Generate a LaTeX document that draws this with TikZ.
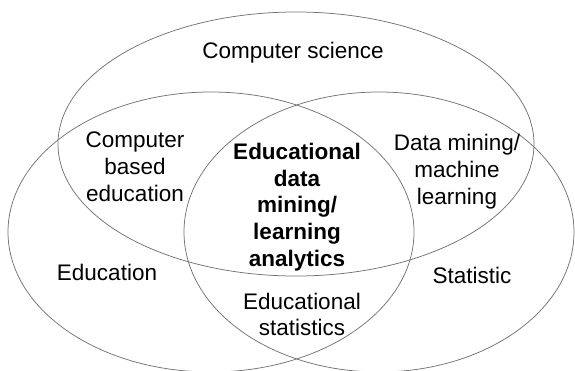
\documentclass[tikz,border=0pt]{standalone}
\usepackage{fontspec}
\setmainfont{Liberation Sans}
\begin{document}
\begin{tikzpicture}[x=1pt,y=-1pt,
  setline/.style={draw=black!55, line width=0.75pt},
  lbl/.style={inner sep=0pt, align=center, font=\fontsize{22.5}{26.8}\selectfont},
  blbl/.style={lbl, font=\fontsize{22.5}{26.6}\selectfont\bfseries}]
\useasboundingbox (0,0) rectangle (575,370);
\draw[setline] (296,144) ellipse [x radius=238, y radius=132];
\draw[setline] (211,232) ellipse [x radius=203, y radius=140];
\draw[setline] (379,232) ellipse [x radius=195, y radius=140];
\node[lbl, anchor=base] (cs) at (293,58) {Computer science};
\node[lbl] (cbe) at (135,167) {Computer\\based\\education};
\node[blbl] (edm) at (297,207) {Educational\\data\\mining/\\learning\\analytics};
\node[lbl] (dm) at (457,171.5) {Data mining/\\machine\\learning};
\node[lbl, anchor=base] (edu) at (107,280) {Education};
\node[lbl, anchor=base] (stat) at (472,283) {Statistic};
\node[lbl] (es) at (302,314.5) {Educational\\statistics};
\end{tikzpicture}
\end{document}
